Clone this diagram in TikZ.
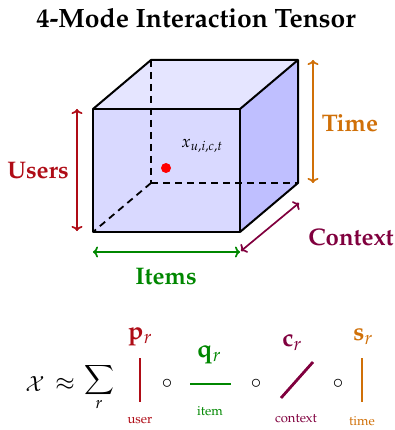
\documentclass[tikz,border=0pt]{standalone}
\usepackage[T1]{fontenc}
\usepackage{mathpazo}
\usepackage{amsmath}
\usepackage{exscale}
\usetikzlibrary{arrows.meta}
\definecolor{usersc}{RGB}{175,12,22}
\definecolor{itemsc}{RGB}{0,135,0}
\definecolor{contextc}{RGB}{128,0,62}
\definecolor{timec}{RGB}{208,112,8}
\begin{document}
\begin{tikzpicture}[x=1pt,y=-1pt,
  edge/.style={line width=2pt,line join=round},
  hidden/.style={line width=1.8pt,dash pattern=on 7pt off 5pt},
  dimarrow/.style={line width=1.7pt,{To[length=5pt,width=11pt]}-{To[length=5pt,width=11pt]}},
  biglabel/.style={font=\fontsize{24}{28}\selectfont\bfseries},
  smalllabel/.style={font=\fontsize{13}{15}\selectfont},
  factor/.style={font=\fontsize{25}{30}\selectfont},
  ocirc/.style={font=\fontsize{20}{24}\selectfont},
  bar/.style={line width=2.8pt}
]
\useasboundingbox (0,0) rectangle (395,430);
% title
\node[font=\fontsize{26.5}{30}\selectfont\bfseries] (title) at (196,18) {4-Mode Interaction Tensor};
% cube coordinates
\coordinate (A) at (93,109);
\coordinate (B) at (240,109);
\coordinate (C) at (240,232);
\coordinate (D) at (93,232);
\coordinate (E) at (151,60);
\coordinate (F) at (298,60);
\coordinate (G) at (298,183);
\coordinate (H) at (151,183);
% faces
\fill[blue!10] (A) -- (E) -- (F) -- (B) -- cycle;
\fill[blue!25] (B) -- (F) -- (G) -- (C) -- cycle;
\fill[blue!15] (A) -- (B) -- (C) -- (D) -- cycle;
% hidden edges
\draw[hidden] (E) -- (H);
\draw[hidden] (H) -- (G);
\draw[hidden] (H) -- (D);
% visible edges
\draw[edge] (A) -- (B) -- (C) -- (D) -- cycle;
\draw[edge] (A) -- (E) -- (F) -- (B);
\draw[edge] (F) -- (G) -- (C);
% entry
\fill[red] (166,168) circle (5pt);
\node[font=\fontsize{17}{20}\selectfont] (xlab) at (202,146) {$x_{u,i,c,t}$};
% dimension arrows
\coordinate (u1) at (77,109);
\coordinate (u2) at (77,231);
\draw[dimarrow,usersc] (u1) -- (u2);
\node[biglabel,text=usersc] (users) at (38,171) {Users};
\coordinate (t1) at (313,60);
\coordinate (t2) at (313,183);
\draw[dimarrow,timec] (t1) -- (t2);
\node[biglabel,text=timec] (time) at (350,123) {Time};
\coordinate (i1) at (93,252);
\coordinate (i2) at (240,252);
\draw[dimarrow,itemsc] (i1) -- (i2);
\node[biglabel,text=itemsc] (items) at (166,277) {Items};
\coordinate (c1) at (241,251);
\coordinate (c2) at (299,203);
\draw[dimarrow,contextc] (c1) -- (c2);
\node[biglabel,text=contextc] (context) at (351,237) {Context};
% decomposition
\node[font=\fontsize{21}{26}\selectfont] (lhs) at (35,384) {$\mathcal{X}$};
\node[font=\fontsize{24}{28}\selectfont] (approx) at (65,384) {$\approx$};
\node[font=\fontsize{22}{26}\selectfont] (sum) at (99,387) {$\displaystyle\sum_r$};
% p
\node[factor,text=usersc] (p) at (140,337) {$\mathbf{p}_r$};
\coordinate (p1) at (140,358);
\coordinate (p2) at (140,402);
\draw[bar,usersc] (p1) -- (p2);
\node[smalllabel,text=usersc] (pl) at (140,420) {user};
\node[ocirc] (o1) at (167,384) {$\circ$};
% q
\node[factor,text=itemsc] (q) at (209,355) {$\mathbf{q}_r$};
\coordinate (q1) at (190,384);
\coordinate (q2) at (231,384);
\draw[bar,itemsc] (q1) -- (q2);
\node[smalllabel,text=itemsc] (ql) at (210,411) {item};
\node[ocirc] (o2) at (256,384) {$\circ$};
% c
\node[factor,text=contextc] (c) at (292,343) {$\mathbf{c}_r$};
\coordinate (cc1) at (281,398);
\coordinate (cc2) at (313,362);
\draw[bar,contextc] (cc1) -- (cc2);
\node[smalllabel,text=contextc] (cl) at (296,419) {context};
\node[ocirc] (o3) at (338,384) {$\circ$};
% s
\node[factor,text=timec] (s) at (363,337) {$\mathbf{s}_r$};
\coordinate (s1) at (362,358);
\coordinate (s2) at (362,402);
\draw[bar,timec] (s1) -- (s2);
\node[smalllabel,text=timec] (sl) at (362,421) {time};
\end{tikzpicture}
\end{document}
